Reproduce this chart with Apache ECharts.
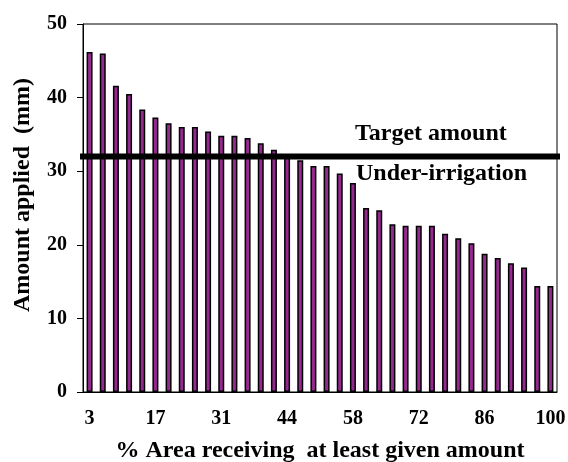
<!DOCTYPE html>
<html>
<head>
<meta charset="utf-8">
<script src="https://cdn.jsdelivr.net/npm/echarts@6/dist/echarts.min.js"></script>
<style>
  html, body { margin: 0; padding: 0; background: #fff; }
  #chart { width: 568px; height: 462px; }
</style>
</head>
<body>
<div id="chart"></div>
<script>
// % of area receiving at least the given amount (one bar per category)
const areaPercent = [3, 6, 8, 11, 14, 17, 19, 22, 25, 28, 31, 33, 36, 39, 42, 44, 47, 50,
  53, 56, 58, 61, 64, 67, 69, 72, 75, 78, 81, 83, 86, 89, 92, 94, 97, 100]

// amount applied (mm)
const amountApplied = [46.2, 46.0, 41.6, 40.5, 38.4, 37.3, 36.5, 36.0, 36.0, 35.4, 34.8, 34.8,
  34.5, 33.8, 32.9, 32.0, 31.5, 30.7, 30.7, 29.7, 28.4, 25.0, 24.7, 22.8, 22.6, 22.6, 22.6,
  21.5, 20.9, 20.2, 18.8, 18.2, 17.5, 16.9, 14.4, 14.4]

const targetAmount = 32
const yTicks = [0, 10, 20, 30, 40, 50]

const serif = '"Liberation Serif", "Times New Roman", serif'

const chart = echarts.init(document.getElementById('chart'))

chart.setOption({
  animation: false,
  backgroundColor: '#fff',
  grid: {
    left: 83,
    right: 11,
    top: 24,
    bottom: 70,
    containLabel: false,
    outerBoundsMode: 'none',
    show: true,
    borderColor: '#000',
    borderWidth: 1
  },
  xAxis: [
    {
      type: 'category',
      data: areaPercent.map(String),
      boundaryGap: true,
      name: '% Area receiving  at least given amount',
      nameLocation: 'middle',
      nameGap: 47,
      nameTextStyle: { fontFamily: serif, fontWeight: 'bold', fontSize: 24, color: '#000' },
      axisLine: { lineStyle: { color: '#000', width: 1 } },
      axisTick: { interval: 4, length: 6, lineStyle: { color: '#000' } },
      axisLabel: {
        interval: 4,
        margin: 17,
        fontFamily: serif,
        fontWeight: 'bold',
        fontSize: 20,
        color: '#000'
      },
      splitLine: { show: false }
    },
    {
      type: 'value',
      min: 0,
      max: 1,
      show: false
    }
  ],
  yAxis: {
    type: 'value',
    min: yTicks[0],
    max: yTicks[yTicks.length - 1],
    interval: 10,
    name: 'Amount applied  (mm)',
    nameLocation: 'middle',
    nameGap: 48,
    nameTextStyle: { fontFamily: serif, fontWeight: 'bold', fontSize: 24, color: '#000', padding: [0, 0, 0, 26] },
    axisLine: { show: true, lineStyle: { color: '#000', width: 1 } },
    axisTick: { show: true, length: 6, lineStyle: { color: '#000' } },
    axisLabel: {
      margin: 16,
      fontFamily: serif,
      fontWeight: 'bold',
      fontSize: 20,
      color: '#000'
    },
    splitLine: { show: false }
  },
  series: [
    {
      name: 'Amount applied',
      type: 'bar',
      data: amountApplied,
      barWidth: 6,
      itemStyle: {
        color: '#95298f',
        borderColor: '#000',
        borderWidth: 1.5
      },
      z: 2
    },
    {
      name: 'Target amount',
      type: 'line',
      xAxisIndex: 1,
      data: [[-0.015, targetAmount], [1.011, targetAmount]],
      clip: false,
      symbol: 'none',
      lineStyle: { color: '#000', width: 6 },
      z: 5
    }
  ],
  graphic: [
    {
      type: 'text',
      left: 355,
      top: 122,
      z: 10,
      style: {
        text: 'Target amount',
        font: 'bold 24px ' + serif,
        fill: '#000'
      }
    },
    {
      type: 'text',
      left: 356,
      top: 162,
      z: 10,
      style: {
        text: 'Under-irrigation',
        font: 'bold 24px ' + serif,
        fill: '#000'
      }
    }
  ]
})
</script>
</body>
</html>
